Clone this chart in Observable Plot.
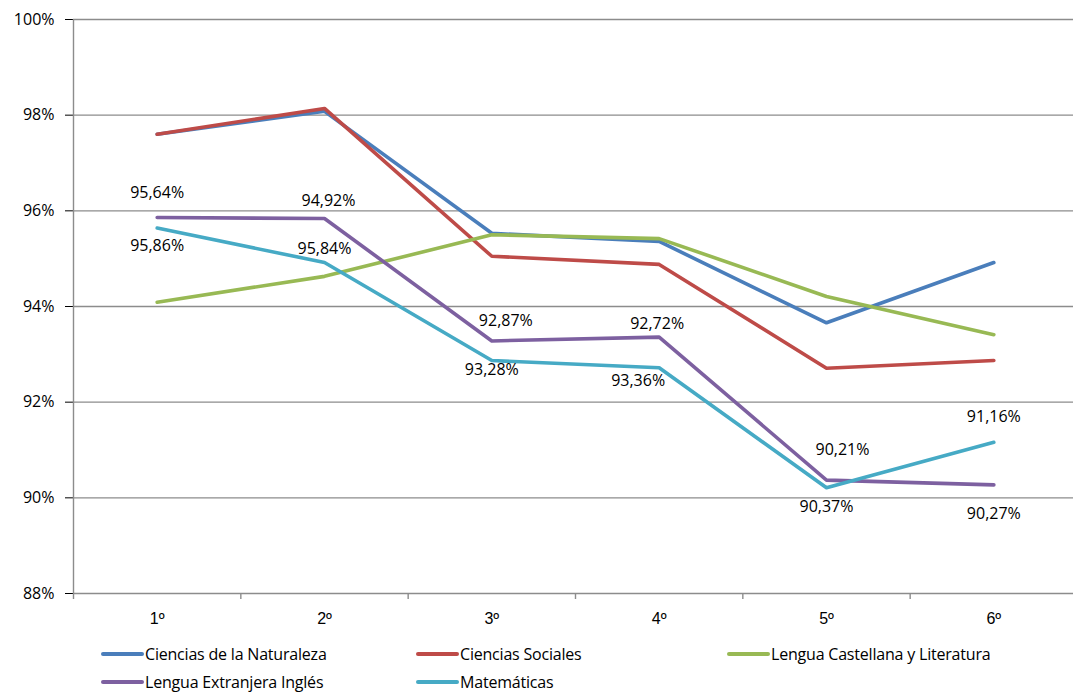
<!DOCTYPE html>
<html>
<head>
<meta charset="utf-8">
<script src="https://cdn.jsdelivr.net/npm/d3@7"></script>
<script src="https://cdn.jsdelivr.net/npm/@observablehq/plot@0.6"></script>
<style>
  html, body { margin: 0; padding: 0; background: #fff; }
  body { width: 1073px; height: 693px; overflow: hidden; font-family: "Open Sans", Lato, sans-serif; }
  #legend { display: grid; grid-template-columns: 315px 311px auto; padding-left: 101px; padding-top: 10px; font-size: 16px; color: #000; letter-spacing: -0.2px; }
  .item { display: flex; align-items: center; height: 28px; white-space: nowrap; }
  .sw { width: 43px; height: 4px; border-radius: 2px; margin-right: 1px; }
  g[aria-label="x-axis tick label"] text { font-family: "Liberation Sans", Arial, sans-serif; }
</style>
</head>
<body>
<div id="chart"></div>
<div id="legend"></div>
<script>
const cursos = ["1º", "2º", "3º", "4º", "5º", "6º"];
const series = ["Ciencias de la Naturaleza", "Ciencias Sociales", "Lengua Castellana y Literatura", "Lengua Extranjera Inglés", "Matemáticas"];
const colors = ["#4a7ebb", "#be4b48", "#98b954", "#7d60a0", "#46aac5"];

const naturaleza = [97.60, 98.08, 95.53, 95.36, 93.66, 94.92];
const sociales   = [97.60, 98.14, 95.05, 94.88, 92.71, 92.87];
const castellana = [94.09, 94.63, 95.50, 95.42, 94.21, 93.41];
const ingles     = [95.86, 95.84, 93.28, 93.36, 90.37, 90.27];
const matematicas= [95.64, 94.92, 92.87, 92.72, 90.21, 91.16];

const yTicks = [88, 90, 92, 94, 96, 98, 100];

// label nudges (pixels) for the data labels, as placed in the original
const matLabelDx = [0, 4, 14, -2, 16, 0];
const matLabelDy = [-35, -62, -40, -44, -38, -25];
const ingLabelDx = [0, 0, 0, -21, 0, 0];
const ingLabelDy = [28, 30, 29, 44, 27, 29];

const allValues = [naturaleza, sociales, castellana, ingles, matematicas];
const rows = [];
series.forEach((s, si) => allValues[si].forEach((v, i) => rows.push({serie: s, i, v})));

const fmt = v => v.toFixed(2).replace(".", ",") + "%";
const bounds = d3.range(-0.5, 6, 1);

const labelRows = [];
cursos.forEach((c, i) => {
  labelRows.push({i, v: matematicas[i], text: fmt(matematicas[i]), dx: matLabelDx[i], dy: matLabelDy[i]});
  labelRows.push({i, v: ingles[i], text: fmt(ingles[i]), dx: ingLabelDx[i], dy: ingLabelDy[i]});
});

const gray = "#8c8c8c";

const chart = Plot.plot({
  width: 1073,
  height: 630,
  marginTop: 19,
  marginBottom: 37,
  marginLeft: 73,
  marginRight: 0,
  style: {fontFamily: "'Open Sans', Lato, sans-serif", fontSize: "16px", color: "#000", background: "#fff"},
  x: {domain: [-0.5, 5.5], range: [73, 1077], ticks: d3.range(0, 6), tickFormat: i => cursos[i], tickSize: 0, tickPadding: 19, label: null},
  y: {domain: [88, 100], ticks: yTicks, tickFormat: d => d + "%", tickSize: 8, tickPadding: 11, label: null},
  color: {domain: series, range: colors},
  marks: [
    Plot.ruleY(yTicks, {stroke: gray, strokeWidth: 1.4}),
    Plot.ruleX([-0.5], {stroke: gray, strokeWidth: 1.4}),
    Plot.ruleX(bounds, {y1: 88, y2: 88, insetBottom: -6, stroke: gray, strokeWidth: 1.4}),
    Plot.line(rows, {x: "i", y: "v", z: "serie", stroke: "serie", strokeWidth: 3.6, strokeLinejoin: "round", strokeLinecap: "round"}),
    ...labelRows.map(d => Plot.text([d], {x: "i", y: "v", text: "text", dx: d.dx, dy: d.dy, fill: "#000", fontSize: 16}))
  ]
});
document.getElementById("chart").appendChild(chart);

const legend = document.getElementById("legend");
series.forEach((s, i) => {
  const it = document.createElement("div");
  it.className = "item";
  const sw = document.createElement("span");
  sw.className = "sw";
  sw.style.background = colors[i];
  const tx = document.createElement("span");
  tx.textContent = s;
  it.appendChild(sw); it.appendChild(tx);
  legend.appendChild(it);
});
</script>
</body>
</html>
